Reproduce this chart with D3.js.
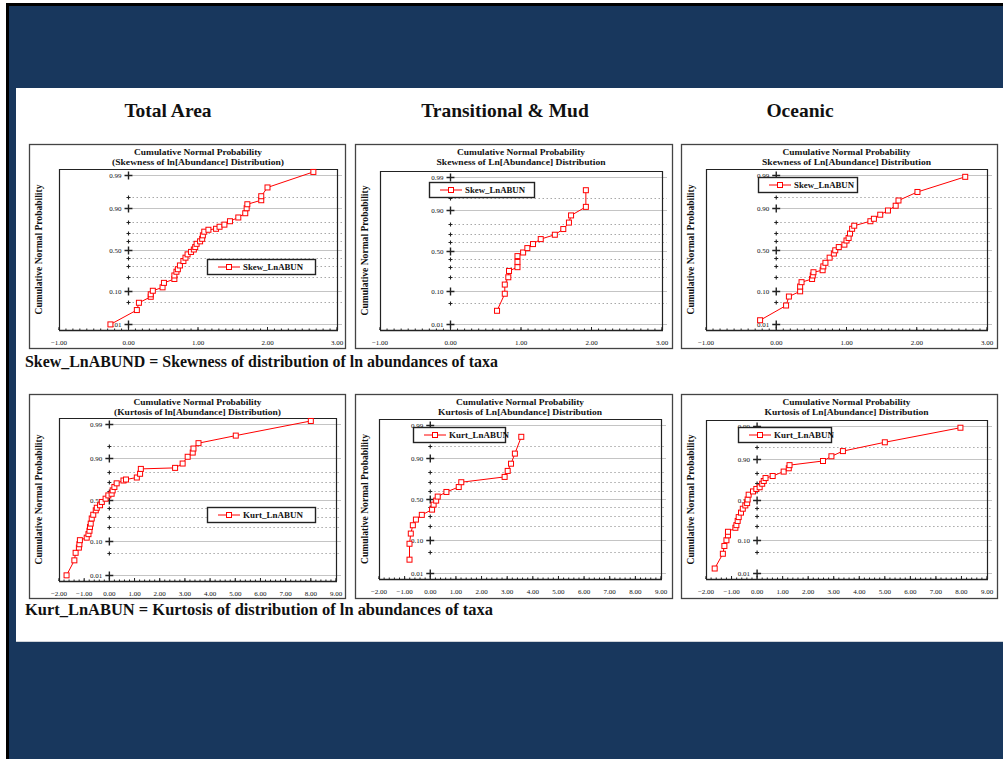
<!DOCTYPE html>
<html>
<head>
<meta charset="utf-8">
<script src="https://cdn.jsdelivr.net/npm/d3@7"></script>
<style>
body { margin: 0; background: #fff; }
svg { display: block; }
text { font-family: "Liberation Serif", "Times New Roman", serif; font-weight: bold; fill: #111; }
</style>
</head>
<body>
<div id="chart"></div>
<script>
"use strict";

var W = 1003;
var H = 759;
var NAVY = "#18375d";
var RED = "#ff0000";

// Region headers and captions
var regions = ["Total Area", "Transitional & Mud", "Oceanic"];
var captions = [
    "Skew_LnABUND = Skewness of distribution of ln abundances of taxa",
    "Kurt_LnABUN = Kurtosis of distribution of ln abundances of taxa"
];

// Probability axis
var probTicks = [0.01, 0.05, 0.10, 0.20, 0.30, 0.40, 0.50, 0.60, 0.70, 0.80, 0.90, 0.95, 0.99];
var probLabels = [0.01, 0.10, 0.50, 0.90, 0.99];
var skewXTicks = [-1, 0, 1, 2, 3];
var kurtXTicks = [-2, -1, 0, 1, 2, 3, 4, 5, 6, 7, 8, 9];

// Data: [value, cumulative normal probability]
var skewTotal = [[-0.26, 0.010], [0.12, 0.030], [0.15, 0.049], [0.32, 0.071], [0.32, 0.082], [0.35, 0.100],
    [0.49, 0.120], [0.51, 0.150], [0.66, 0.180], [0.66, 0.210], [0.69, 0.245], [0.71, 0.270], [0.74, 0.310],
    [0.79, 0.360], [0.82, 0.400], [0.85, 0.440], [0.90, 0.470], [0.94, 0.500], [0.96, 0.530], [0.98, 0.570],
    [1.03, 0.600], [1.06, 0.630], [1.07, 0.670], [1.09, 0.710], [1.15, 0.730], [1.26, 0.740], [1.31, 0.760],
    [1.38, 0.780], [1.46, 0.810], [1.58, 0.840], [1.68, 0.870], [1.70, 0.900], [1.71, 0.920], [1.91, 0.937],
    [1.91, 0.951], [2.00, 0.973], [2.66, 0.992]];

var skewTrans = [[0.66, 0.029], [0.77, 0.087], [0.77, 0.142], [0.82, 0.200], [0.83, 0.260], [0.95, 0.300],
    [0.95, 0.360], [0.95, 0.430], [1.03, 0.475], [1.09, 0.530], [1.17, 0.580], [1.28, 0.640], [1.48, 0.690],
    [1.60, 0.750], [1.68, 0.810], [1.71, 0.865], [1.92, 0.915], [1.92, 0.971]];

var skewOcean = [[-0.23, 0.014], [0.14, 0.041], [0.18, 0.072], [0.34, 0.097], [0.34, 0.125], [0.36, 0.155],
    [0.51, 0.180], [0.52, 0.210], [0.53, 0.240], [0.66, 0.260], [0.67, 0.300], [0.70, 0.340], [0.76, 0.400],
    [0.82, 0.450], [0.84, 0.490], [0.89, 0.530], [0.97, 0.560], [1.00, 0.610], [1.03, 0.640], [1.05, 0.690],
    [1.08, 0.740], [1.11, 0.770], [1.34, 0.810], [1.39, 0.830], [1.48, 0.860], [1.59, 0.887], [1.70, 0.913],
    [1.74, 0.936], [2.01, 0.963], [2.69, 0.988]];

var kurtTotal = [[-1.70, 0.010], [-1.39, 0.031], [-1.34, 0.051], [-1.21, 0.070], [-1.19, 0.085], [-1.17, 0.106],
    [-0.90, 0.121], [-0.83, 0.144], [-0.79, 0.169], [-0.77, 0.200], [-0.74, 0.230], [-0.70, 0.280], [-0.64, 0.320],
    [-0.54, 0.370], [-0.50, 0.400], [-0.37, 0.430], [-0.30, 0.470], [-0.15, 0.510], [-0.04, 0.550], [0.09, 0.570],
    [0.13, 0.610], [0.20, 0.650], [0.29, 0.690], [0.56, 0.720], [0.66, 0.730], [1.09, 0.750], [1.22, 0.785],
    [1.25, 0.826], [2.61, 0.834], [2.91, 0.865], [3.11, 0.905], [3.31, 0.925], [3.34, 0.941], [3.54, 0.958],
    [5.02, 0.975], [8.00, 0.992]];

var kurtTrans = [[-0.81, 0.029], [-0.81, 0.081], [-0.76, 0.140], [-0.68, 0.206], [-0.56, 0.260], [-0.33, 0.310],
    [0.07, 0.370], [0.13, 0.430], [0.23, 0.480], [0.29, 0.530], [0.63, 0.587], [1.11, 0.646], [1.21, 0.700],
    [2.90, 0.755], [3.02, 0.810], [3.15, 0.865], [3.30, 0.922], [3.55, 0.974]];

var kurtOcean = [[-1.66, 0.015], [-1.34, 0.044], [-1.28, 0.072], [-1.20, 0.100], [-1.14, 0.130], [-1.14, 0.155],
    [-0.85, 0.187], [-0.81, 0.210], [-0.76, 0.250], [-0.72, 0.290], [-0.63, 0.340], [-0.56, 0.386], [-0.46, 0.426],
    [-0.39, 0.455], [-0.37, 0.500], [-0.33, 0.560], [-0.16, 0.600], [-0.03, 0.630], [0.10, 0.650], [0.20, 0.690],
    [0.26, 0.720], [0.33, 0.750], [0.61, 0.770], [1.04, 0.810], [1.24, 0.837], [1.27, 0.860], [2.58, 0.887],
    [2.91, 0.913], [3.36, 0.936], [5.00, 0.964], [7.96, 0.988]];

// Panel layout
var panels = [
    { data: skewTotal, series: "Skew_LnABUN", sub: "(Skewness of ln[Abundance] Distribution)", subLen: 172,
      box: [29, 144, 345, 348], plot: [59, 169, 337, 330], xd: [-1, 3], ticks: skewXTicks, minor: 0.1, legend: [207, 259, 108] },
    { data: skewTrans, series: "Skew_LnABUN", sub: "Skewness of Ln[Abundance] Distribution", subLen: 169,
      box: [355, 144, 672, 348], plot: [380, 171, 662, 330], xd: [-1, 3], ticks: skewXTicks, minor: 0.1, legend: [429, 182, 105] },
    { data: skewOcean, series: "Skew_LnABUN", sub: "Skewness of Ln[Abundance] Distribution", subLen: 169,
      box: [681, 144, 997, 348], plot: [706, 169, 987, 330], xd: [-1, 3], ticks: skewXTicks, minor: 0.1, legend: [758, 177, 99] },
    { data: kurtTotal, series: "Kurt_LnABUN", sub: "(Kurtosis of ln[Abundance] Distribution)", subLen: 167,
      box: [29, 394, 345, 598], plot: [59, 418, 336, 581], xd: [-2, 9], ticks: kurtXTicks, minor: 0.2, legend: [207, 507, 108] },
    { data: kurtTrans, series: "Kurt_LnABUN", sub: "Kurtosis of Ln[Abundance] Distribution", subLen: 164,
      box: [355, 394, 672, 598], plot: [379, 419, 661, 579], xd: [-2, 9], ticks: kurtXTicks, minor: 0.2, legend: [413, 427, 92] },
    { data: kurtOcean, series: "Kurt_LnABUN", sub: "Kurtosis of Ln[Abundance] Distribution", subLen: 164,
      box: [681, 394, 997, 598], plot: [706, 420, 987, 579], xd: [-2, 9], ticks: kurtXTicks, minor: 0.2, legend: [738, 427, 93] }
];

// Inverse normal CDF (Acklam), used by the probability axis
function probit(p) {
    var a = [-3.969683028665376e+01, 2.209460984245205e+02, -2.759285104469687e+02, 1.383577518672690e+02, -3.066479806614716e+01, 2.506628277459239e+00];
    var b = [-5.447609879822406e+01, 1.615858368580409e+02, -1.556989798598866e+02, 6.680131188771972e+01, -1.328068155288572e+01];
    var c = [-7.784894002430293e-03, -3.223964580411365e-01, -2.400758277161838e+00, -2.549732539343734e+00, 4.374664141464968e+00, 2.938163982698783e+00];
    var d = [7.784695709041462e-03, 3.224671290700398e-01, 2.445134137142996e+00, 3.754408661907416e+00];
    var q, r;
    if (p < 0.02425) {
        q = Math.sqrt(-2 * Math.log(p));
        return (((((c[0] * q + c[1]) * q + c[2]) * q + c[3]) * q + c[4]) * q + c[5]) / ((((d[0] * q + d[1]) * q + d[2]) * q + d[3]) * q + 1);
    }
    if (p > 1 - 0.02425) {
        q = Math.sqrt(-2 * Math.log(1 - p));
        return -(((((c[0] * q + c[1]) * q + c[2]) * q + c[3]) * q + c[4]) * q + c[5]) / ((((d[0] * q + d[1]) * q + d[2]) * q + d[3]) * q + 1);
    }
    q = p - 0.5;
    r = q * q;
    return (((((a[0] * r + a[1]) * r + a[2]) * r + a[3]) * r + a[4]) * r + a[5]) * q / (((((b[0] * r + b[1]) * r + b[2]) * r + b[3]) * r + b[4]) * r + 1);
}

var svg = d3.select("#chart").append("svg")
    .attr("width", W)
    .attr("height", H);

// Slide background
svg.append("rect").attr("x", 6).attr("y", 3).attr("width", W - 6).attr("height", H - 3).attr("fill", "#000");
svg.append("rect").attr("x", 9).attr("y", 6).attr("width", W - 9).attr("height", H - 6).attr("fill", NAVY);
svg.append("rect").attr("x", 16).attr("y", 88).attr("width", W - 16).attr("height", 553).attr("fill", "#fff");
svg.append("line").attr("x1", 16).attr("x2", W).attr("y1", 641.5).attr("y2", 641.5)
    .attr("stroke", "#cfd3d8").attr("stroke-width", 1);

// Region headers
var headerX = [168, 505, 800];
regions.forEach(function (name, i) {
    svg.append("text")
        .text(name)
        .attr("x", headerX[i])
        .attr("y", 117)
        .attr("text-anchor", "middle")
        .style("font-size", "19.5px");
});

// Captions
svg.append("text").text(captions[0]).attr("x", 25).attr("y", 367)
    .attr("textLength", 473).attr("lengthAdjust", "spacingAndGlyphs").style("font-size", "16px");
svg.append("text").text(captions[1]).attr("x", 25).attr("y", 615)
    .attr("textLength", 468).attr("lengthAdjust", "spacingAndGlyphs").style("font-size", "16px");

panels.forEach(drawPanel);

function drawPanel(p) {
    var g = svg.append("g");
    var left = p.plot[0], top = p.plot[1], right = p.plot[2], bottom = p.plot[3];

    var x = d3.scaleLinear().domain(p.xd).range([left, right]);
    var yz = d3.scaleLinear().domain([-2.5, 2.5]).range([bottom, top]);
    var y = function (prob) { return yz(probit(prob)); };
    var x0 = x(0);

    // Chart frame
    g.append("rect")
        .attr("x", p.box[0] + 0.5).attr("y", p.box[1] + 0.5)
        .attr("width", p.box[2] - p.box[0]).attr("height", p.box[3] - p.box[1])
        .attr("fill", "#fff").attr("stroke", "#444").attr("stroke-width", 1.3);

    // Titles
    var cx = (left + right) / 2;
    g.append("text").text("Cumulative Normal Probability")
        .attr("x", cx).attr("y", p.box[1] + 11).attr("text-anchor", "middle")
        .attr("textLength", 128).attr("lengthAdjust", "spacingAndGlyphs")
        .style("font-size", "8.5px");
    g.append("text").text(p.sub)
        .attr("x", cx).attr("y", p.box[1] + 21).attr("text-anchor", "middle")
        .attr("textLength", p.subLen).attr("lengthAdjust", "spacingAndGlyphs")
        .style("font-size", "8.5px");

    // Y axis title
    g.append("text").text("Cumulative Normal Probability")
        .attr("transform", "translate(" + (p.box[0] + 13) + "," + ((top + bottom) / 2) + ") rotate(-90)")
        .attr("text-anchor", "middle")
        .attr("textLength", 130).attr("lengthAdjust", "spacingAndGlyphs")
        .style("font-size", "9.5px");

    // Gridlines
    probTicks.forEach(function (pr) {
        var major = probLabels.indexOf(pr) >= 0;
        var yy = Math.round(y(pr)) + 0.5;
        g.append("line")
            .attr("x1", x0 + 4).attr("x2", right + 5)
            .attr("y1", yy).attr("y2", yy)
            .attr("stroke", major ? "#c4c4c4" : "#a8a8a8")
            .attr("stroke-width", major ? 1.2 : 1)
            .attr("stroke-dasharray", major ? null : "1.5,2.5");
        var s = major ? 4 : 2;
        g.append("path")
            .attr("d", "M" + (x0 - s) + "," + yy + "H" + (x0 + s) + "M" + x0 + "," + (yy - s) + "V" + (yy + s))
            .attr("stroke", "#222").attr("stroke-width", major ? 1.4 : 1.1);
        if (major) {
            g.append("text").text(d3.format(".2f")(pr))
                .attr("x", x0 - 7).attr("y", yy + 2.5)
                .attr("text-anchor", "end")
                .style("font-size", "7px").style("font-weight", "normal");
        }
    });

    // Plot area border
    g.append("path")
        .attr("d", "M" + (left + 0.5) + "," + bottom + "V" + (top + 0.5) + "H" + (right + 0.5) + "V" + bottom)
        .attr("fill", "none").attr("stroke", "#222").attr("stroke-width", 1.2);

    // X axis with minor ticks
    var minorTicks = d3.range(p.xd[0], p.xd[1] + 1e-9, p.minor);
    g.selectAll("line.minor").data(minorTicks).enter().append("line")
        .attr("class", "minor")
        .attr("x1", function (d) { return x(d); }).attr("x2", function (d) { return x(d); })
        .attr("y1", bottom).attr("y2", bottom - 1.5)
        .attr("stroke", "#222").attr("stroke-width", 1);
    g.selectAll("line.major").data(p.ticks).enter().append("line")
        .attr("class", "major")
        .attr("x1", function (d) { return x(d); }).attr("x2", function (d) { return x(d); })
        .attr("y1", bottom).attr("y2", bottom - 3)
        .attr("stroke", "#222").attr("stroke-width", 1);
    g.append("line")
        .attr("x1", left).attr("x2", right + 1)
        .attr("y1", bottom + 0.5).attr("y2", bottom + 0.5)
        .attr("stroke", "#222").attr("stroke-width", 1.4);
    g.selectAll("text.xlab").data(p.ticks).enter().append("text")
        .attr("class", "xlab")
        .text(function (d) { return d3.format(".2f")(d); })
        .attr("x", function (d) { return x(d); })
        .attr("y", bottom + 15)
        .attr("text-anchor", "middle")
        .style("font-size", "7px").style("font-weight", "normal");

    // Series
    var line = d3.line()
        .x(function (d) { return x(d[0]); })
        .y(function (d) { return y(d[1]); });
    g.append("path").datum(p.data)
        .attr("d", line)
        .attr("fill", "none").attr("stroke", RED).attr("stroke-width", 1);
    g.selectAll("rect.pt").data(p.data).enter().append("rect")
        .attr("class", "pt")
        .attr("x", function (d) { return x(d[0]) - 2.5; })
        .attr("y", function (d) { return y(d[1]) - 2.5; })
        .attr("width", 5).attr("height", 5)
        .attr("fill", "#fff").attr("stroke", RED).attr("stroke-width", 1);

    // Legend
    var lx = p.legend[0], ly = p.legend[1], lw = p.legend[2], lh = 15;
    g.append("rect")
        .attr("x", lx + 0.5).attr("y", ly + 0.5).attr("width", lw).attr("height", lh)
        .attr("fill", "#fff").attr("stroke", "#222").attr("stroke-width", 1.4);
    g.append("line")
        .attr("x1", lx + 11).attr("x2", lx + 33)
        .attr("y1", ly + lh / 2 + 0.5).attr("y2", ly + lh / 2 + 0.5)
        .attr("stroke", RED).attr("stroke-width", 1);
    g.append("rect")
        .attr("x", lx + 19.5).attr("y", ly + lh / 2 - 2).attr("width", 5).attr("height", 5)
        .attr("fill", "#fff").attr("stroke", RED).attr("stroke-width", 1);
    g.append("text").text(p.series)
        .attr("x", lx + 36).attr("y", ly + lh / 2 + 3.5)
        .attr("textLength", 60).attr("lengthAdjust", "spacingAndGlyphs")
        .style("font-size", "9px");
}
</script>
</body>
</html>
